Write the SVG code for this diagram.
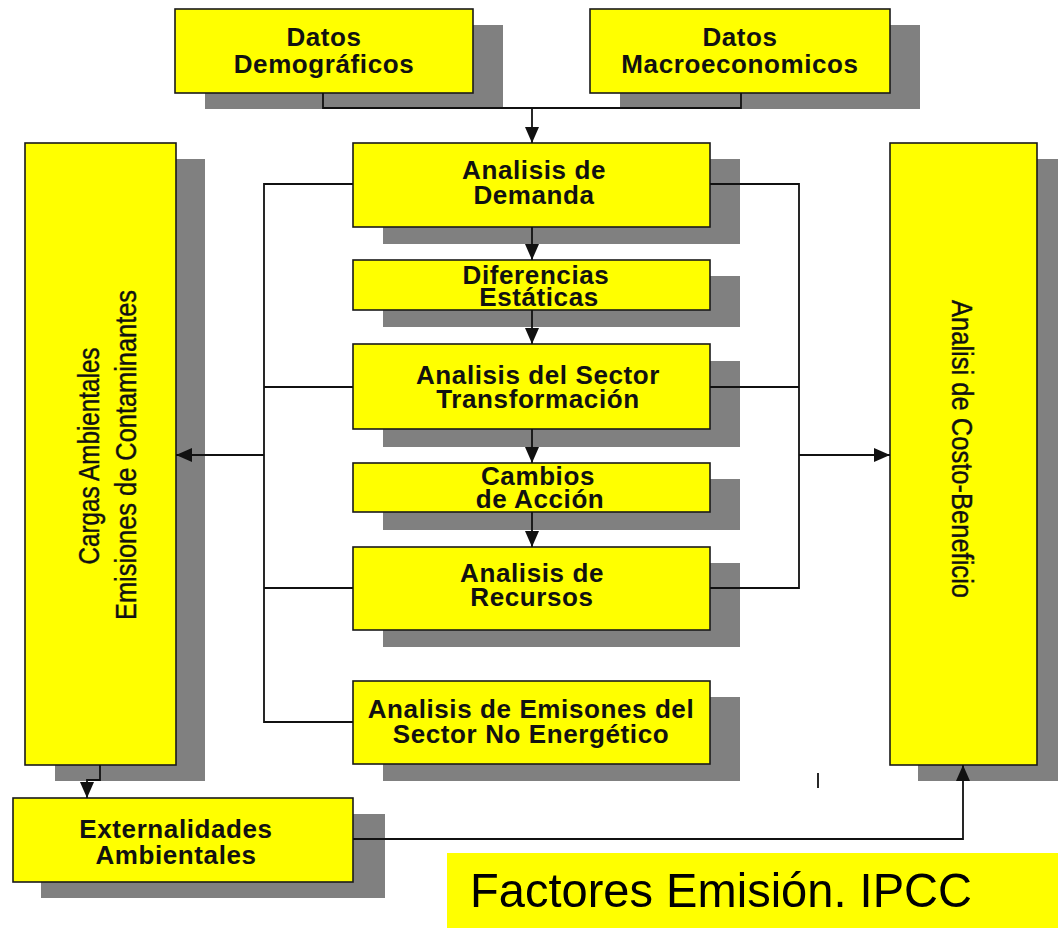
<svg xmlns="http://www.w3.org/2000/svg" width="1058" height="928" viewBox="0 0 1058 928">
<style>
.sh{fill:#808080}
.bx{fill:#ffff00;stroke:#1a1a1a;stroke-width:1.6}
.lbl{font-family:"Liberation Sans",Arial,sans-serif;font-weight:bold;font-size:26px;fill:#111;text-anchor:middle;letter-spacing:0.6px}
.vl{font-family:"Liberation Sans",Arial,sans-serif;font-size:30px;fill:#111;stroke:#111;stroke-width:0.4;text-anchor:middle}
.cn{fill:none;stroke:#111;stroke-width:1.8}
</style>
<defs>
<marker id="ah" markerUnits="userSpaceOnUse" markerWidth="16" markerHeight="14" refX="16" refY="7" orient="auto">
<path d="M0,0 L16,7 L0,14 z" fill="#111"/>
</marker>
</defs>
<rect width="1058" height="928" fill="#fff"/>

<g id="datos-demograficos">
<rect class="sh" x="205" y="25" width="298" height="84"/>
<rect class="bx" x="175" y="9" width="298" height="84"/>
<text class="lbl" x="324" y="46">Datos</text>
<text class="lbl" x="324" y="73">Demográficos</text>
</g>
<g id="datos-macroeconomicos">
<rect class="sh" x="620" y="25" width="300" height="84"/>
<rect class="bx" x="590" y="9" width="300" height="84"/>
<text class="lbl" x="740" y="46">Datos</text>
<text class="lbl" x="740" y="73">Macroeconomicos</text>
</g>
<g id="analisis-demanda">
<rect class="sh" x="383" y="159" width="357" height="85"/>
<rect class="bx" x="353" y="143" width="357" height="84"/>
<text class="lbl" x="534" y="179">Analisis de</text>
<text class="lbl" x="534" y="204">Demanda</text>
</g>
<g id="diferencias-estaticas">
<rect class="sh" x="383" y="276" width="357" height="51"/>
<rect class="bx" x="353" y="260" width="357" height="50"/>
<text class="lbl" x="536" y="284">Diferencias</text>
<text class="lbl" x="539" y="306">Estáticas</text>
</g>
<g id="analisis-sector-transformacion">
<rect class="sh" x="383" y="361" width="357" height="86"/>
<rect class="bx" x="353" y="344" width="357" height="85"/>
<text class="lbl" x="538" y="384">Analisis del Sector</text>
<text class="lbl" x="538" y="408">Transformación</text>
</g>
<g id="cambios-accion">
<rect class="sh" x="383" y="479" width="357" height="51"/>
<rect class="bx" x="353" y="463" width="357" height="49"/>
<text class="lbl" x="538" y="485">Cambios</text>
<text class="lbl" x="540" y="508">de Acción</text>
</g>
<g id="analisis-recursos">
<rect class="sh" x="383" y="563" width="357" height="84"/>
<rect class="bx" x="353" y="547" width="357" height="83"/>
<text class="lbl" x="532" y="582">Analisis de</text>
<text class="lbl" x="532" y="606">Recursos</text>
</g>
<g id="analisis-emisiones-no-energetico">
<rect class="sh" x="383" y="697" width="357" height="84"/>
<rect class="bx" x="353" y="681" width="357" height="83"/>
<text class="lbl" x="531" y="718">Analisis de Emisones del</text>
<text class="lbl" x="531" y="743">Sector No Energético</text>
</g>
<g id="cargas-ambientales">
<rect class="sh" x="55" y="159" width="150" height="622"/>
<rect class="bx" x="25" y="143" width="151" height="622"/>
<text class="vl" transform="translate(99,456) rotate(-90)" textLength="217" lengthAdjust="spacingAndGlyphs">Cargas Ambientales</text>
<text class="vl" transform="translate(136,455) rotate(-90)" textLength="330" lengthAdjust="spacingAndGlyphs">Emisiones de Contaminantes</text>
</g>
<g id="analisis-costo-beneficio">
<rect class="sh" x="918" y="159" width="150" height="622"/>
<rect class="bx" x="890" y="143" width="147" height="622"/>
<text class="vl" transform="translate(952,449) rotate(90)" textLength="298" lengthAdjust="spacingAndGlyphs">Analisi de Costo-Beneficio</text>
</g>
<g id="externalidades-ambientales">
<rect class="sh" x="41" y="814" width="344" height="84"/>
<rect class="bx" x="13" y="798" width="340" height="84"/>
<text class="lbl" x="176" y="838">Externalidades</text>
<text class="lbl" x="176" y="864">Ambientales</text>
</g>
<g id="factores-emision">
<rect x="447" y="853" width="611" height="75" fill="#ffff00"/>
<text x="470" y="907" font-family="Liberation Sans, Arial, sans-serif" font-size="49" fill="#000" textLength="502" lengthAdjust="spacingAndGlyphs">Factores Emisión. IPCC</text>
</g>

<g id="connectors">
<path class="cn" d="M323,93 V108 H741 V93"/>
<path class="cn" d="M532,108 V143" marker-end="url(#ah)"/>
<path class="cn" d="M532,227 V260" marker-end="url(#ah)"/>
<path class="cn" d="M532,310 V344" marker-end="url(#ah)"/>
<path class="cn" d="M532,429 V463" marker-end="url(#ah)"/>
<path class="cn" d="M532,512 V547" marker-end="url(#ah)"/>
<path class="cn" d="M353,184 H264 V722 H353"/>
<path class="cn" d="M264,387 H353"/>
<path class="cn" d="M264,588 H353"/>
<path class="cn" d="M264,455 H176" marker-end="url(#ah)"/>
<path class="cn" d="M710,184 H799 V588 H710"/>
<path class="cn" d="M710,387 H799"/>
<path class="cn" d="M799,455 H890" marker-end="url(#ah)"/>
<path class="cn" d="M100,765 V780 H87 V798" marker-end="url(#ah)"/>
<path class="cn" d="M353,839 H963 V765" marker-end="url(#ah)"/>
<path class="cn" d="M818,773 V788"/>
</g>
</svg>
